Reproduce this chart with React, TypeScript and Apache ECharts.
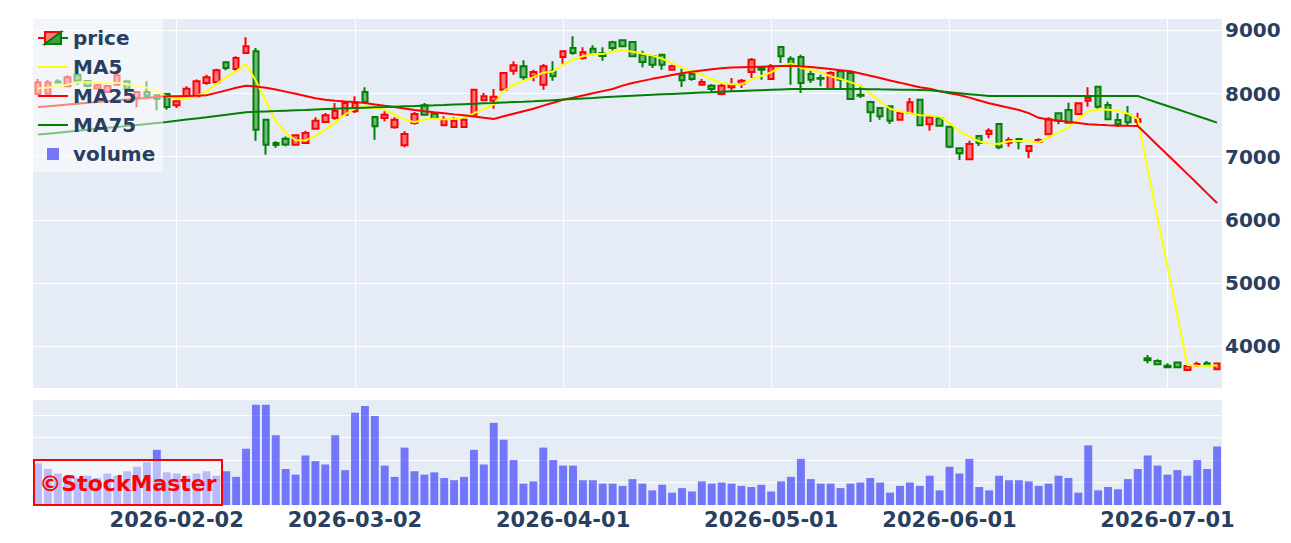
import React, { useEffect, useRef } from "react";
import * as echarts from "echarts";

const dates = [
  "2026-01-13","2026-01-14","2026-01-15","2026-01-16","2026-01-19","2026-01-20","2026-01-21","2026-01-22","2026-01-23","2026-01-26",
  "2026-01-27","2026-01-28","2026-01-29","2026-01-30","2026-02-02","2026-02-03","2026-02-04","2026-02-05","2026-02-06","2026-02-09",
  "2026-02-10","2026-02-12","2026-02-13","2026-02-16","2026-02-17","2026-02-18","2026-02-19","2026-02-20","2026-02-24","2026-02-25",
  "2026-02-26","2026-02-27","2026-03-02","2026-03-03","2026-03-04","2026-03-05","2026-03-06","2026-03-09","2026-03-10","2026-03-11",
  "2026-03-12","2026-03-13","2026-03-16","2026-03-17","2026-03-18","2026-03-19","2026-03-23","2026-03-24","2026-03-25","2026-03-26",
  "2026-03-27","2026-03-30","2026-03-31","2026-04-01","2026-04-02","2026-04-03","2026-04-06","2026-04-07","2026-04-08","2026-04-09",
  "2026-04-10","2026-04-13","2026-04-14","2026-04-15","2026-04-16","2026-04-17","2026-04-20","2026-04-21","2026-04-22","2026-04-23",
  "2026-04-24","2026-04-27","2026-04-28","2026-04-30","2026-05-01","2026-05-07","2026-05-08","2026-05-11","2026-05-12","2026-05-13",
  "2026-05-14","2026-05-15","2026-05-18","2026-05-19","2026-05-20","2026-05-21","2026-05-22","2026-05-25","2026-05-26","2026-05-27",
  "2026-05-28","2026-05-29","2026-06-01","2026-06-02","2026-06-03","2026-06-04","2026-06-05","2026-06-08","2026-06-09","2026-06-10",
  "2026-06-11","2026-06-12","2026-06-15","2026-06-16","2026-06-17","2026-06-18","2026-06-19","2026-06-22","2026-06-23","2026-06-24",
  "2026-06-25","2026-06-26","2026-06-29","2026-06-30","2026-07-01","2026-07-02","2026-07-03","2026-07-06","2026-07-07","2026-07-08",
];

const tickDates = ["2026-02-02", "2026-03-02", "2026-04-01", "2026-05-01", "2026-06-01", "2026-07-01"];

const opens = [
  7992,7995,8190,8114,8298,8200,8080,8023,8139,8193,
  7929,8024,7972,7992,7814,7956,7956,8166,8177,8494,
  8388,8641,8668,7586,7217,7285,7190,7217,7443,7549,
  7613,7665,7719,8024,7628,7613,7465,7181,7534,7813,
  7681,7497,7470,7470,7665,7893,7886,8060,8361,8430,
  8272,8139,8351,8578,8720,8562,8709,8641,8810,8842,
  8815,8614,8589,8614,8377,8288,8309,8139,8124,7992,
  8098,8155,8340,8404,8230,8736,8551,8578,8309,8245,
  8071,8351,8325,7981,7866,7771,7798,7586,7692,7902,
  7513,7608,7475,7133,6959,7328,7359,7518,7222,7280,
  7090,7238,7355,7687,7739,7676,7886,8108,7818,7581,
  7660,7554,3810,3768,3694,3742,3626,3700,3732,3637,
];
const closes = [
  8180,8175,8175,8256,8203,8120,8130,8118,8288,8076,
  8024,7960,7915,7785,7877,8076,8193,8256,8367,8404,
  8562,8747,7427,7190,7185,7195,7340,7375,7570,7655,
  7728,7850,7850,7866,7481,7665,7586,7359,7676,7665,
  7602,7586,7570,7586,8060,7956,7950,8325,8446,8256,
  8340,8430,8272,8668,8641,8652,8630,8595,8720,8747,
  8589,8498,8456,8456,8430,8209,8230,8182,8071,8124,
  8140,8203,8535,8377,8430,8589,8483,8166,8218,8232,
  8325,8218,7913,7966,7703,7640,7570,7692,7861,7497,
  7624,7491,7159,7054,7201,7222,7412,7149,7265,7240,
  7170,7265,7592,7570,7538,7845,7934,7791,7592,7513,
  7545,7592,3780,3716,3670,3670,3689,3721,3689,3726,
];
const lows = [
  7975,7985,8165,8105,8140,8100,8060,8010,8130,8065,
  7782,7930,7730,7745,7770,7950,7950,8140,8170,8367,
  8361,8635,7253,7030,7140,7165,7185,7210,7440,7545,
  7586,7660,7692,7860,7270,7560,7443,7149,7507,7660,
  7595,7490,7465,7465,7660,7885,7760,8050,8298,8218,
  8193,8060,8203,8472,8614,8535,8604,8519,8677,8740,
  8580,8415,8404,8377,8370,8103,8203,8135,8024,7972,
  8045,8087,8245,8218,8218,8483,8139,8008,8166,8114,
  8065,8087,7900,7929,7549,7586,7518,7580,7685,7490,
  7412,7485,7133,6948,6955,7170,7292,7117,7159,7117,
  6975,7232,7350,7513,7530,7670,7791,7750,7585,7475,
  7502,7475,3732,3710,3665,3665,3620,3678,3685,3632,
];
const highs = [
  8230,8215,8225,8290,8310,8215,8150,8140,8325,8205,
  8035,8200,7985,8010,7885,8115,8220,8298,8393,8500,
  8589,8889,8720,7600,7245,7320,7355,7412,7624,7692,
  7850,7870,7956,8098,7640,7720,7624,7402,7708,7850,
  7695,7640,7624,7633,8070,8008,8071,8335,8510,8525,
  8377,8467,8510,8675,8905,8731,8763,8731,8836,8855,
  8830,8677,8600,8625,8456,8393,8320,8230,8150,8150,
  8245,8230,8562,8430,8467,8747,8589,8614,8361,8298,
  8351,8361,8351,8140,7886,7780,7810,7728,7929,7915,
  7640,7620,7490,7145,7253,7340,7450,7530,7307,7290,
  7180,7292,7624,7700,7855,7861,8098,8115,7871,7687,
  7802,7697,3863,3795,3732,3750,3695,3757,3768,3735,
];

const ma5 = [
  8080,8095,8110,8140,8180,8180,8170,8160,8170,8145,
  8125,8090,8035,7955,7915,7925,7960,8030,8150,8255,
  8355,8462,8200,7880,7560,7380,7260,7255,7335,7430,
  7540,7670,7765,7795,7770,7745,7665,7590,7545,7590,
  7600,7590,7600,7620,7685,7755,7830,8040,8140,8195,
  8260,8330,8350,8455,8535,8590,8625,8625,8665,8685,
  8660,8630,8600,8550,8485,8410,8355,8300,8225,8165,
  8145,8145,8220,8278,8335,8428,8480,8405,8375,8335,
  8270,8230,8180,8125,8000,7880,7760,7715,7693,7655,
  7652,7633,7535,7400,7320,7240,7210,7200,7245,7250,
  7245,7225,7310,7385,7460,7595,7715,7750,7745,7730,
  7680,7600,6804,6029,5261,4486,3705,3693,3688,3699,
];
const ma25 = [
  7785,7798,7812,7825,7838,7852,7865,7878,7892,7905,
  7918,7930,7943,7955,7958,7962,7966,7972,8010,8050,
  8090,8124,8110,8090,8062,8030,7995,7960,7925,7900,
  7885,7875,7866,7850,7828,7805,7785,7762,7740,7719,
  7702,7686,7670,7655,7635,7615,7597,7640,7680,7720,
  7760,7808,7855,7902,7935,7970,8005,8038,8071,8125,
  8165,8200,8232,8262,8292,8320,8345,8365,8385,8400,
  8410,8415,8420,8425,8430,8436,8440,8432,8420,8405,
  8388,8370,8351,8316,8280,8245,8205,8172,8135,8100,
  8076,8035,8005,7976,7935,7890,7845,7810,7775,7740,
  7690,7615,7590,7570,7552,7535,7515,7505,7497,7491,
  7488,7486,7335,7180,7030,6880,6728,6575,6420,6268,
];
const ma75 = [
  7350,7365,7380,7395,7410,7426,7441,7457,7472,7488,
  7503,7518,7534,7549,7568,7587,7606,7625,7645,7664,
  7684,7703,7710,7716,7722,7729,7735,7741,7748,7754,
  7760,7765,7770,7776,7781,7786,7792,7797,7802,7808,
  7813,7819,7826,7832,7838,7845,7851,7858,7864,7870,
  7877,7886,7895,7904,7913,7922,7930,7939,7948,7957,
  7966,7973,7980,7987,7994,8001,8008,8015,8021,8028,
  8035,8041,8047,8053,8059,8065,8071,8071,8071,8071,
  8071,8071,8071,8071,8069,8066,8064,8061,8058,8055,
  8050,8035,8020,8005,7990,7975,7961,7960,7960,7960,
  7960,7960,7960,7960,7960,7960,7960,7960,7960,7960,
  7960,7960,7908,7855,7802,7750,7697,7645,7592,7539,
];

// volume in thousands of shares
const volumes = [
  185,160,140,130,120,130,120,140,130,150,
  170,190,245,145,140,130,140,150,130,150,
  125,250,445,445,310,160,135,220,195,180,
  310,155,410,440,395,175,125,255,150,135,
  145,120,110,125,245,180,365,290,200,95,
  105,255,200,175,175,110,110,95,95,85,
  115,95,65,90,55,75,60,105,95,100,
  95,85,80,90,60,105,125,205,115,95,
  95,75,95,100,120,100,55,85,100,85,
  130,65,170,140,205,80,65,130,110,110,
  105,85,95,130,120,55,265,65,80,70,
  115,160,220,175,135,155,130,200,160,260,
];

const FONT = "DejaVu Sans";
const TEXT_COLOR = "#2a3f5f";

const svgIcon = (body: string) =>
  "image://data:image/svg+xml;charset=utf-8," +
  encodeURIComponent(
    `<svg xmlns="http://www.w3.org/2000/svg" width="30" height="16" viewBox="0 0 30 16">${body}</svg>`
  );

const priceIcon = svgIcon(
  '<path d="M0 8H7" stroke="red" stroke-width="2"/>' +
    '<path d="M23 8H30" stroke="green" stroke-width="2"/>' +
    '<path d="M7 2H23L7 14Z" fill="rgb(255,128,128)" stroke="red" stroke-width="2"/>' +
    '<path d="M23 2V14H7Z" fill="rgb(64,160,64)" stroke="green" stroke-width="2"/>'
);
const lineIcon = (c: string) => svgIcon(`<path d="M0 8H30" stroke="${c}" stroke-width="2"/>`);
const volIcon = svgIcon('<rect x="9" y="2" width="12" height="12" fill="rgb(115,118,250)"/>');

export default function App() {
  const ref = useRef<HTMLDivElement>(null);

  useEffect(() => {
    if (!ref.current) return;
    const chart = echarts.init(ref.current, null, { renderer: "svg" });

    const candleData = dates.map((_, i) => [opens[i], closes[i], lows[i], highs[i]]);

    const labelStyle = {
      fontSize: 20,
      fontWeight: "bold" as const,
      color: TEXT_COLOR,
      fontFamily: FONT,
    };

    chart.setOption({
      animation: false,
      backgroundColor: "#ffffff",
      textStyle: { fontFamily: FONT },
      grid: [
        { left: 33, right: 69, top: 18, height: 370, show: true, backgroundColor: "#e5ecf6", borderWidth: 0 },
        { left: 33, right: 69, top: 399, height: 106, show: true, backgroundColor: "#e5ecf6", borderWidth: 0 },
      ],
      legend: {
        left: 33,
        top: 18,
        orient: "vertical",
        align: "left",
        backgroundColor: "rgba(255,255,255,0.5)",
        padding: [10, 8, 8, 5],
        itemWidth: 30,
        itemHeight: 16,
        itemGap: 9,
        selectedMode: false,
        textStyle: { ...labelStyle },
        data: [
          { name: "price", icon: priceIcon },
          { name: "MA5", icon: lineIcon("yellow") },
          { name: "MA25", icon: lineIcon("red") },
          { name: "MA75", icon: lineIcon("green") },
          { name: "volume", icon: volIcon },
        ],
        z: 10,
      },
      xAxis: [
        {
          type: "category",
          gridIndex: 0,
          data: dates,
          boundaryGap: true,
          axisLine: { show: false },
          axisTick: { show: false },
          axisLabel: { show: false },
          splitLine: { show: false },
        },
        {
          type: "category",
          gridIndex: 1,
          data: dates,
          boundaryGap: true,
          axisLine: { show: false },
          axisTick: { show: false },
          splitLine: { show: false },
          axisLabel: {
            ...labelStyle,
            fontSize: 21,
            margin: 4,
            interval: (_i: number, v: string) => tickDates.includes(v),
          },
        },
      ],
      yAxis: [
        {
          type: "value",
          gridIndex: 0,
          position: "right",
          min: 3340,
          max: 9195,
          axisLine: { show: false },
          axisTick: { show: false },
          splitLine: { show: true, lineStyle: { color: "#ffffff", width: 1 } },
          axisLabel: {
            ...labelStyle,
            margin: 3,
            formatter: (v: number) => (v % 1000 === 0 ? String(v) : ""),
          },
        },
        {
          type: "value",
          gridIndex: 1,
          position: "right",
          min: 0,
          max: 471,
          interval: 100,
          axisLine: { show: false },
          axisTick: { show: false },
          axisLabel: { show: false },
          splitLine: { show: true, lineStyle: { color: "#ffffff", width: 1 } },
        },
      ],
      series: [
        {
          name: "xgrid",
          type: "line",
          xAxisIndex: 0,
          yAxisIndex: 0,
          data: dates.map(() => null),
          symbol: "none",
          silent: true,
          z: 1,
          markLine: {
            silent: true,
            symbol: ["none", "none"],
            z: 1,
            label: { show: false },
            lineStyle: { color: "#ffffff", width: 1, type: "solid" },
            emphasis: { disabled: true },
            data: tickDates.map((d) => ({ xAxis: d })),
          },
        },
        {
          name: "price",
          type: "candlestick",
          xAxisIndex: 0,
          yAxisIndex: 0,
          data: candleData,
          barWidth: 6,
          z: 2,
          itemStyle: {
            color: "rgba(255,0,0,0.5)",
            color0: "rgba(0,128,0,0.5)",
            borderColor: "#ff0000",
            borderColor0: "#008000",
            borderWidth: 2,
          },
        },
        {
          name: "MA5",
          type: "line",
          xAxisIndex: 0,
          yAxisIndex: 0,
          data: ma5,
          symbol: "none",
          z: 3,
          lineStyle: { color: "#ffff00", width: 2 },
          itemStyle: { color: "#ffff00" },
        },
        {
          name: "MA25",
          type: "line",
          xAxisIndex: 0,
          yAxisIndex: 0,
          data: ma25,
          symbol: "none",
          z: 3,
          lineStyle: { color: "#ff0000", width: 2 },
          itemStyle: { color: "#ff0000" },
        },
        {
          name: "MA75",
          type: "line",
          xAxisIndex: 0,
          yAxisIndex: 0,
          data: ma75,
          symbol: "none",
          z: 3,
          lineStyle: { color: "#008000", width: 2 },
          itemStyle: { color: "#008000" },
        },
        {
          name: "volume",
          type: "bar",
          xAxisIndex: 1,
          yAxisIndex: 1,
          data: volumes,
          barWidth: "80%",
          z: 2,
          itemStyle: { color: "rgba(0,0,255,0.5)" },
        },
      ],
      graphic: [
        {
          type: "group",
          left: 33,
          top: 459,
          z: 100,
          zlevel: 0,
          children: [
            {
              type: "rect",
              z: 100,
              shape: { x: 0, y: 0, width: 188, height: 45 },
              style: { fill: "rgba(255,255,255,0.5)", stroke: "#ff0000", lineWidth: 2 },
            },
            {
              type: "text",
              z: 101,
              x: 94,
              y: 23,
              style: {
                text: "©StockMaster",
                fill: "#ff0000",
                fontSize: 22,
                fontWeight: "bold",
                fontFamily: FONT,
                align: "center",
                verticalAlign: "middle",
              },
            },
          ],
        },
      ],
    });

    return () => chart.dispose();
  }, []);

  return (
    <div
      ref={ref}
      style={{ position: "fixed", left: 0, top: 0, width: 1291, height: 543, background: "#fff" }}
    />
  );
}
